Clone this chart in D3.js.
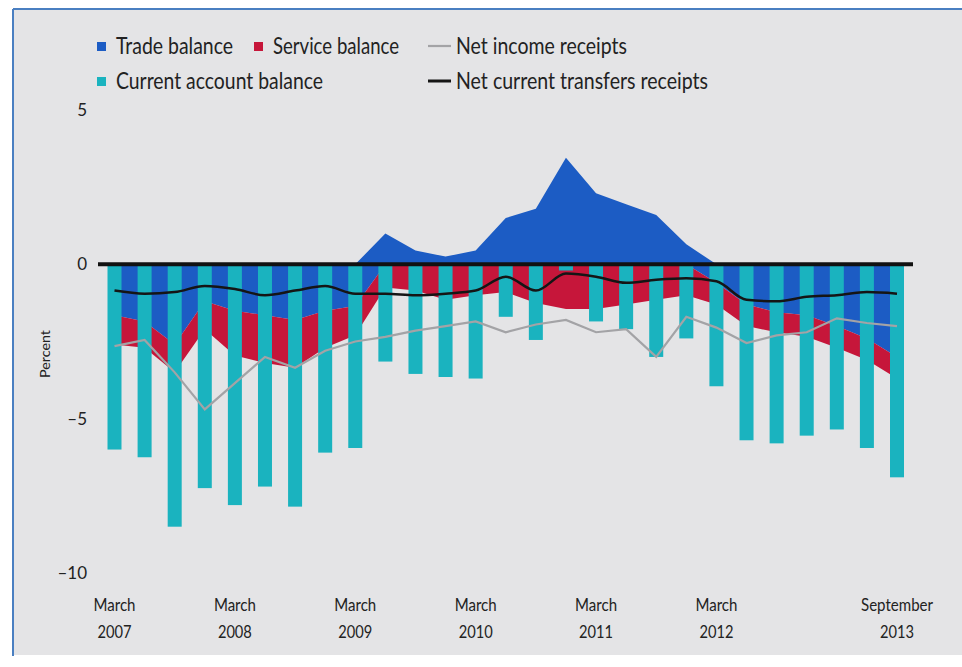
<!DOCTYPE html>
<html>
<head>
<meta charset="utf-8">
<script src="https://cdn.jsdelivr.net/npm/d3@7"></script>
<style>
  body { margin: 0; background: #fff; }
  text { font-family: Lato, "Open Sans", "Liberation Sans", sans-serif; fill: #222; }
</style>
</head>
<body>
<div id="chart"></div>
<script>
var quarters = ["Mar 2007","Jun 2007","Sep 2007","Dec 2007","Mar 2008","Jun 2008","Sep 2008","Dec 2008",
                "Mar 2009","Jun 2009","Sep 2009","Dec 2009","Mar 2010","Jun 2010","Sep 2010","Dec 2010",
                "Mar 2011","Jun 2011","Sep 2011","Dec 2011","Mar 2012","Jun 2012","Sep 2012","Dec 2012",
                "Mar 2013","Jun 2013","Sep 2013"];
var tradeBalance = [-1.65,-1.85,-2.6,-1.2,-1.5,-1.65,-1.8,-1.5,-1.35,1.0,0.45,0.25,0.45,1.5,1.8,3.45,2.3,1.95,1.6,0.65,-0.6,-1.3,-1.55,-1.65,-2.0,-2.4,-3.0];
var serviceBalance = [-0.95,-0.85,-0.9,-0.9,-1.45,-1.55,-1.55,-1.2,-0.95,-0.75,-0.85,-1.15,-1.0,-0.9,-1.25,-1.45,-1.45,-1.3,-1.15,-1.0,-0.7,-0.7,-0.65,-0.7,-0.7,-0.7,-0.7];
var currentAccount = [-6.0,-6.25,-8.5,-7.25,-7.8,-7.2,-7.85,-6.1,-5.95,-3.15,-3.55,-3.65,-3.7,-1.7,-2.45,-0.2,-1.85,-2.1,-3.0,-2.4,-3.95,-5.7,-5.8,-5.55,-5.35,-5.95,-6.9];
var netIncome = [-2.65,-2.45,-3.5,-4.7,-3.85,-3.0,-3.35,-2.8,-2.5,-2.35,-2.15,-2.0,-1.85,-2.2,-1.95,-1.8,-2.2,-2.1,-3.0,-1.7,-2.05,-2.55,-2.3,-2.2,-1.75,-1.9,-2.0];
var netTransfers = [-0.85,-0.95,-0.9,-0.7,-0.8,-1.0,-0.85,-0.7,-0.95,-0.95,-1.0,-0.95,-0.85,-0.4,-0.85,-0.3,-0.4,-0.6,-0.5,-0.45,-0.55,-1.15,-1.2,-1.05,-1.0,-0.9,-0.95];
var yTicks = [5, 0, -5, -10];
var xLabels = [["Mar 2007","March","2007"],["Mar 2008","March","2008"],["Mar 2009","March","2009"],
               ["Mar 2010","March","2010"],["Mar 2011","March","2011"],["Mar 2012","March","2012"],
               ["Sep 2013","September","2013"]];

var W = 962, H = 667,
    colors = { trade: "#1c5cc4", service: "#c6163a", current: "#1ab3bf", income: "#a3a3a6", transfers: "#151515" };

var svg = d3.select("#chart").append("svg")
    .attr("width", W)
    .attr("height", H);

// panel + frame
svg.append("rect").attr("x", 13).attr("y", 9).attr("width", 949).attr("height", 646).attr("fill", "#e4e4e6");
svg.append("line").attr("x1", 13).attr("x2", 962).attr("y1", 9).attr("y2", 9).attr("stroke", "#4a7fc1").attr("stroke-width", 2);
svg.append("line").attr("x1", 13).attr("x2", 13).attr("y1", 9).attr("y2", 656).attr("stroke", "#4a7fc1").attr("stroke-width", 2);

var x = d3.scalePoint().domain(quarters).range([114.5, 897]);
var y = d3.scaleLinear().domain([-10, 5]).range([573, 110]);

var data = quarters.map(function(q, i) {
  return { q: q, trade: tradeBalance[i], service: serviceBalance[i], current: currentAccount[i],
           income: netIncome[i], transfers: netTransfers[i] };
});

var stack = d3.stack().keys(["trade", "service"]).offset(d3.stackOffsetDiverging);
var series = stack(data);

var area = d3.area()
    .x(function(d) { return x(d.data.q); })
    .y0(function(d) { return y(d[0]); })
    .y1(function(d) { return y(d[1]); });

svg.selectAll(".layer")
    .data(series)
  .enter().append("path")
    .attr("class", "layer")
    .attr("d", area)
    .attr("fill", function(d) { return colors[d.key]; });

var barW = 14;
svg.selectAll(".bar")
    .data(data)
  .enter().append("rect")
    .attr("class", "bar")
    .attr("x", function(d) { return x(d.q) - barW / 2; })
    .attr("y", y(0))
    .attr("width", barW)
    .attr("height", function(d) { return y(d.current) - y(0); })
    .attr("fill", colors.current);

var incomeLine = d3.line()
    .x(function(d) { return x(d.q); })
    .y(function(d) { return y(d.income); });
var transfersLine = d3.line()
    .curve(d3.curveMonotoneX)
    .x(function(d) { return x(d.q); })
    .y(function(d) { return y(d.transfers); });

svg.append("path").datum(data).attr("d", incomeLine)
    .attr("fill", "none").attr("stroke", colors.income).attr("stroke-width", 2.2);
svg.append("path").datum(data).attr("d", transfersLine)
    .attr("fill", "none").attr("stroke", colors.transfers).attr("stroke-width", 2.5);

// zero line
svg.append("line")
    .attr("x1", 98).attr("x2", 913)
    .attr("y1", y(0)).attr("y2", y(0))
    .attr("stroke", "#111").attr("stroke-width", 4);

// y axis labels
var yAxis = svg.append("g")
    .attr("transform", "translate(91,0)")
    .call(d3.axisLeft(y).tickValues(yTicks).tickSize(0).tickPadding(4)
      .tickFormat(function(d) { return d < 0 ? "\u2013" + Math.abs(d) : d; }));
yAxis.select(".domain").remove();
yAxis.selectAll("text").style("font-size", "17px").attr("fill", "#222")
    .style("font-family", "Lato, sans-serif");

svg.append("text")
    .attr("transform", "translate(50,354) rotate(-90)")
    .attr("text-anchor", "middle")
    .style("font-size", "14px")
    .attr("textLength", 48).attr("lengthAdjust", "spacingAndGlyphs")
    .text("Percent");

// x labels
var xl = svg.selectAll(".xlabel")
    .data(xLabels)
  .enter().append("text")
    .attr("class", "xlabel")
    .attr("text-anchor", "middle")
    .style("font-size", "18px");
xl.append("tspan").attr("x", function(d) { return x(d[0]); }).attr("y", 611)
    .attr("textLength", function(d) { return d[1] === "March" ? 42 : 72; })
    .attr("lengthAdjust", "spacingAndGlyphs")
    .text(function(d) { return d[1]; });
xl.append("tspan").attr("x", function(d) { return x(d[0]); }).attr("y", 638)
    .attr("textLength", 34).attr("lengthAdjust", "spacingAndGlyphs")
    .text(function(d) { return d[2]; });

// legend
var legend = [
  { label: "Trade balance", color: colors.trade, type: "box", x: 97, y: 46, w: 117 },
  { label: "Service balance", color: colors.service, type: "box", x: 254, y: 46, w: 126 },
  { label: "Net income receipts", color: colors.income, type: "line", x: 428, y: 46, w: 171 },
  { label: "Current account balance", color: colors.current, type: "box", x: 97, y: 81, w: 207 },
  { label: "Net current transfers receipts", color: colors.transfers, type: "line", x: 428, y: 81, w: 252 }
];
var lg = svg.selectAll(".lg").data(legend).enter().append("g").attr("class", "lg")
    .attr("transform", function(d) { return "translate(" + d.x + "," + d.y + ")"; });
lg.filter(function(d) { return d.type === "box"; }).append("rect")
    .attr("x", 0).attr("y", -4).attr("width", 9).attr("height", 9)
    .attr("fill", function(d) { return d.color; });
lg.filter(function(d) { return d.type === "line"; }).append("line")
    .attr("x1", 0).attr("x2", 23).attr("y1", 0).attr("y2", 0)
    .attr("stroke", function(d) { return d.color; })
    .attr("stroke-width", function(d) { return d.label.indexOf("transfers") > 0 ? 3 : 2.2; });
lg.append("text")
    .attr("x", function(d) { return d.type === "box" ? 19 : 28; })
    .attr("y", 8)
    .style("font-size", "23px")
    .attr("textLength", function(d) { return d.w; })
    .attr("lengthAdjust", "spacingAndGlyphs")
    .text(function(d) { return d.label; });
</script>
</body>
</html>
